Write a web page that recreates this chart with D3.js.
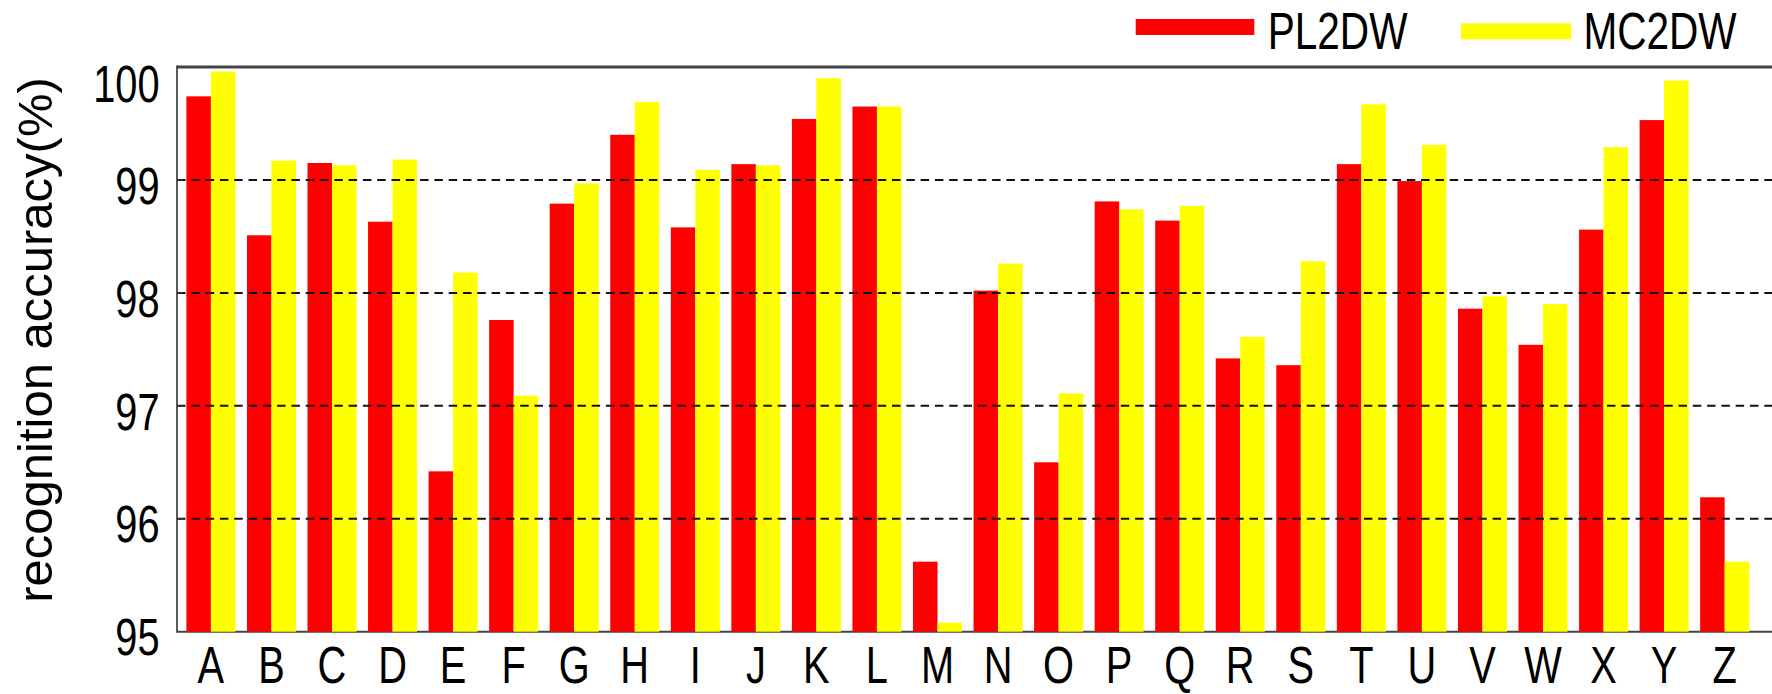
<!DOCTYPE html>
<html><head><meta charset="utf-8">
<script src="https://cdn.jsdelivr.net/npm/d3@7"></script>
<style>body{margin:0;background:#fff;overflow:hidden} svg{display:block}</style>
</head><body>
<svg id="chart" width="1772" height="694"></svg>
<script>
const categories = ["A","B","C","D","E","F","G","H","I","J","K","L","M","N","O","P","Q","R","S","T","U","V","W","X","Y","Z"];
const seriesNames = ["PL2DW","MC2DW"];
const pl2dw = [99.74,98.51,99.15,98.63,96.42,97.76,98.79,99.40,98.58,99.14,99.54,99.65,95.62,98.02,96.50,98.81,98.64,97.42,97.36,99.14,98.99,97.86,97.54,98.56,99.53,96.19];
const mc2dw = [99.96,99.17,99.13,99.18,98.18,97.09,98.97,99.69,99.09,99.13,99.90,99.65,95.08,98.26,97.11,98.74,98.77,97.61,98.28,99.67,99.31,97.97,97.90,99.29,99.88,95.62];
const yTickValues = [95,96,97,98,99,100];
const gridValues = [96,97,98,99];
const seriesColors = ["#ff0000","#ffff00"];
const yTitle = "recognition accuracy(%)";

const plotLeft = 177, plotTop = 67, plotBottom = 631.7, plotRight = 1772;
const fontFam = "'Liberation Sans', Arial, Helvetica, sans-serif";
const squeeze = 0.78;

const svg = d3.select("#chart");
const x0 = d3.scaleBand().domain(categories).range([180.6, 1754.9]).padding(0);
const x1 = d3.scaleBand().domain(seriesNames).range([5.8, 54.8]).padding(0);
const y = d3.scaleLinear().domain([95, 100]).range([plotBottom, plotTop]);

const seriesData = [pl2dw, mc2dw];

// bottom axis line (under bars)
svg.append("line").attr("x1", plotLeft).attr("x2", plotRight)
  .attr("y1", y(95)).attr("y2", y(95))
  .attr("stroke", "#444").attr("stroke-width", 2);

// bars
const groups = svg.append("g").selectAll("g").data(categories).join("g")
  .attr("transform", d => `translate(${x0(d)},0)`);
groups.selectAll("rect")
  .data((d, i) => seriesNames.map((s, k) => ({s, k, v: seriesData[k][i]})))
  .join("rect")
  .attr("x", d => x1(d.s))
  .attr("width", x1.bandwidth())
  .attr("y", d => y(d.v))
  .attr("height", d => y(95) - y(d.v))
  .attr("fill", d => seriesColors[d.k]);

// dashed gridlines (on top of bars)
svg.append("g").selectAll("line").data(gridValues).join("line")
  .attr("x1", plotLeft).attr("x2", plotRight)
  .attr("y1", d => y(d)).attr("y2", d => y(d))
  .attr("stroke", "#111").attr("stroke-width", 2)
  .attr("stroke-dasharray", "8.5,5.8");

// top border & left axis
svg.append("line").attr("x1", plotLeft).attr("x2", plotRight)
  .attr("y1", y(100)).attr("y2", y(100))
  .attr("stroke", "#444").attr("stroke-width", 3);
svg.append("line").attr("x1", plotLeft).attr("x2", plotLeft)
  .attr("y1", y(100) - 1.5).attr("y2", y(95) + 1)
  .attr("stroke", "#333").attr("stroke-width", 1.6);

// inward tick marks on the left axis
svg.append("g").selectAll("line").data(gridValues).join("line")
  .attr("x1", plotLeft).attr("x2", plotLeft + 6)
  .attr("y1", d => y(d)).attr("y2", d => y(d))
  .attr("stroke", "#333").attr("stroke-width", 1.4);

// y axis tick labels
const yAxis = svg.append("g").attr("transform", `translate(${plotLeft},0)`)
  .call(d3.axisLeft(y).tickValues(yTickValues).tickSize(0).tickPadding(0).tickFormat(d3.format("d")));
yAxis.select(".domain").remove();
yAxis.selectAll("text")
  .attr("x", null).attr("dy", null)
  .attr("font-family", fontFam).attr("font-size", 51).attr("fill", "#000")
  .attr("text-anchor", "end")
  .attr("transform", d => `translate(-17.5,${d === 100 ? 34.7 : 23.2}) scale(${squeeze},1)`);

// x axis tick labels
const xAxis = svg.append("g").attr("transform", `translate(0,${plotBottom})`)
  .call(d3.axisBottom(x0).tickSize(0).tickPadding(0));
xAxis.select(".domain").remove();
xAxis.selectAll("text")
  .attr("y", null).attr("dy", null)
  .attr("font-family", fontFam).attr("font-size", 51).attr("fill", "#000")
  .attr("text-anchor", "middle")
  .attr("transform", `translate(0,51.3) scale(${squeeze},1)`);

// y title
svg.append("text")
  .attr("transform", "translate(52,340) rotate(-90)")
  .attr("text-anchor", "middle")
  .attr("font-family", fontFam).attr("font-size", 49).attr("fill", "#000")
  .text(yTitle);

// legend
const legendSwatch = [{x: 1135.7, w: 118.6, y: 19}, {x: 1461, w: 110.2, y: 23.3}];
const legendTextX = [1267.7, 1583.4];
const legend = svg.append("g");
legend.selectAll("rect").data(seriesNames).join("rect")
  .attr("x", (d, i) => legendSwatch[i].x).attr("width", (d, i) => legendSwatch[i].w)
  .attr("y", (d, i) => legendSwatch[i].y).attr("height", 16)
  .attr("fill", (d, i) => seriesColors[i]);
legend.selectAll("text").data(seriesNames).join("text")
  .attr("transform", (d, i) => `translate(${legendTextX[i]},49.3) scale(${squeeze},1)`)
  .attr("font-family", fontFam).attr("font-size", 52).attr("fill", "#000")
  .text(d => d);
</script>
</body></html>
